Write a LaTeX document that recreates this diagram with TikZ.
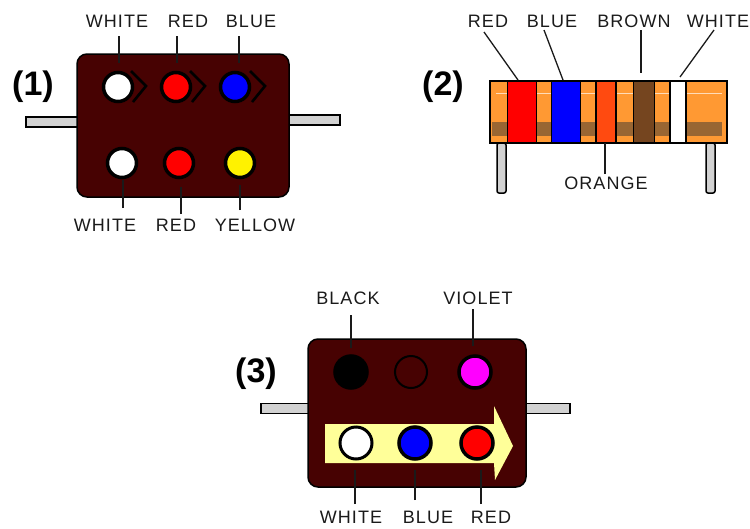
\documentclass[tikz,border=0pt]{standalone}
\usepackage{fontspec}
\setmainfont{Liberation Sans}
\newfontfamily\labfont[LetterSpace=6]{Liberation Sans}
\definecolor{bodyc}{HTML}{470202}
\definecolor{leadc}{HTML}{D2D2D2}
\definecolor{resor}{HTML}{FF9933}
\definecolor{resdk}{HTML}{996633}
\definecolor{bandor}{HTML}{FF4A10}
\definecolor{bandbr}{HTML}{75451F}
\definecolor{arrowc}{HTML}{FFFF99}
\definecolor{magc}{HTML}{FF00FF}
\definecolor{inkc}{HTML}{1A1A1A}
\tikzset{
  lab/.style={inner sep=0pt,font=\labfont\fontsize{18}{18}\selectfont,text=inkc},
  num/.style={inner sep=0pt,font=\bfseries\fontsize{34}{34}\selectfont},
  conn/.style={draw=inkc,line width=1.3pt},
  hull/.style={draw=black,line width=1.5pt,fill=bodyc,rounded corners=10pt,inner sep=0pt},
  wire/.style={draw=black,line width=1.5pt,fill=leadc,inner sep=0pt},
  dot/.style={circle,draw=black,line width=3.5pt,minimum size=29pt,inner sep=0pt},
  bigdot/.style={dot,minimum size=32pt},
  chev/.style={draw=black,line width=2.6pt,line join=miter},
  band/.style={draw=black,line width=1.4pt,inner sep=0pt,minimum height=62pt},
}
\begin{document}
\begin{tikzpicture}[x=1pt,y=-1pt]
\useasboundingbox (0,0) rectangle (750,528);
% ---- (1)
\node[wire,minimum width=52pt,minimum height=10pt] (w1l) at (52,122) {};
\node[wire,minimum width=52pt,minimum height=10pt] (w1r) at (314,120) {};
\node[hull,minimum width=212pt,minimum height=143pt] (b1) at (183,125.5) {};
\node[num] (n1) at (33,87) {(1)};
\draw[chev] (131,71) -- (146,86) -- (133,102);
\draw[chev] (190,71) -- (205,86) -- (192,102);
\draw[chev] (250,71) -- (265,86) -- (252,102);
\node[dot,fill=white] (a1) at (118,87) {};
\node[dot,fill=red] (a2) at (176,87) {};
\node[dot,fill=blue] (a3) at (235,87) {};
\node[dot,fill=white] (a4) at (122,163) {};
\node[dot,fill=red] (a5) at (179,163) {};
\node[dot,fill=yellow] (a6) at (240,163) {};
\node[lab] (l1) at (117,21) {WHITE};
\node[lab] (l2) at (188,21) {RED};
\node[lab] (l3) at (251,21) {BLUE};
\node[lab] (l4) at (105,225) {WHITE};
\node[lab] (l5) at (176,225) {RED};
\node[lab] (l6) at (255,225) {YELLOW};
\coordinate (t1) at (119,36); \coordinate (e1) at (119,63);
\coordinate (t2) at (177,36); \coordinate (e2) at (177,63);
\coordinate (t3) at (239,36); \coordinate (e3) at (239,63);
\coordinate (t4) at (123,208); \coordinate (e4) at (123,180);
\coordinate (t5) at (181,214); \coordinate (e5) at (181,187);
\coordinate (t6) at (240,210); \coordinate (e6) at (240,185);
\foreach \i in {1,...,6} {\draw[conn] (t\i) -- (e\i);}
% ---- (2)
\node[wire,minimum width=9pt,minimum height=50pt,rounded corners=2pt] (w2l) at (501.5,168) {};
\node[wire,minimum width=9pt,minimum height=50pt,rounded corners=2pt] (w2r) at (710.5,168) {};
\node[draw=black,line width=1.5pt,fill=resor,inner sep=0pt,minimum width=237pt,minimum height=62pt] (r2) at (608.5,112) {};
\fill[resdk] (492,122) rectangle (722,136);
\fill[white!65!resor] (496,92.5) rectangle (722,94);
\node[band,fill=red,minimum width=29pt] (b21) at (522,112) {};
\node[band,fill=blue,minimum width=29pt] (b22) at (566,112) {};
\node[band,fill=bandor,minimum width=20pt] (b23) at (606,112) {};
\node[band,fill=bandbr,minimum width=21pt] (b24) at (644,112) {};
\node[band,fill=white,minimum width=16pt] (b25) at (678,112) {};
\node[num] (n2) at (443,87) {(2)};
\node[lab] (m1) at (488,21) {RED};
\node[lab] (m2) at (552,21) {BLUE};
\node[lab] (m3) at (634,21) {BROWN};
\node[lab] (m4) at (718,21) {WHITE};
\node[lab] (m5) at (606,183) {ORANGE};
\coordinate (f1) at (484,32); \coordinate (g1) at (518,80);
\coordinate (f2) at (544,30); \coordinate (g2) at (563,80);
\coordinate (f3) at (641,30); \coordinate (g3) at (641,73);
\coordinate (f4) at (714,30); \coordinate (g4) at (680,77);
\coordinate (f5) at (605,174); \coordinate (g5) at (605,143);
\foreach \i in {1,...,5} {\draw[conn] (f\i) -- (g\i);}
% ---- (3)
\node[wire,minimum width=48pt,minimum height=10pt] (w3l) at (285,408.5) {};
\node[wire,minimum width=44pt,minimum height=10pt] (w3r) at (548,408.5) {};
\node[hull,minimum width=218pt,minimum height=148pt] (b3) at (417,413) {};
\node[num] (n3) at (256,374) {(3)};
\fill[arrowc] (325,424) -- (494,424) -- (494,406) -- (513,446) -- (495,480) -- (494,463) -- (325,463) -- cycle;
\node[bigdot,fill=black] (c1) at (351,372) {};
\node[bigdot,fill=bodyc,line width=2pt] (c2) at (411,372) {};
\node[bigdot,fill=magc] (c3) at (475,372) {};
\node[bigdot,fill=white,line width=3pt] (c4) at (356,443) {};
\node[bigdot,fill=blue] (c5) at (415,443) {};
\node[bigdot,fill=red] (c6) at (477,443) {};
\node[lab] (k1) at (348,298) {BLACK};
\node[lab] (k2) at (478,298) {VIOLET};
\node[lab] (k3) at (351,517) {WHITE};
\node[lab] (k4) at (428,517) {BLUE};
\node[lab] (k5) at (491,517) {RED};
\coordinate (p1) at (351,315); \coordinate (q1) at (351,348);
\coordinate (p2) at (473,309); \coordinate (q2) at (473,346);
\coordinate (p3) at (355,504); \coordinate (q3) at (355,470);
\coordinate (p4) at (415,500); \coordinate (q4) at (415,470);
\coordinate (p5) at (481,504); \coordinate (q5) at (481,470);
\foreach \i in {1,...,5} {\draw[conn] (p\i) -- (q\i);}
\end{tikzpicture}
\end{document}
